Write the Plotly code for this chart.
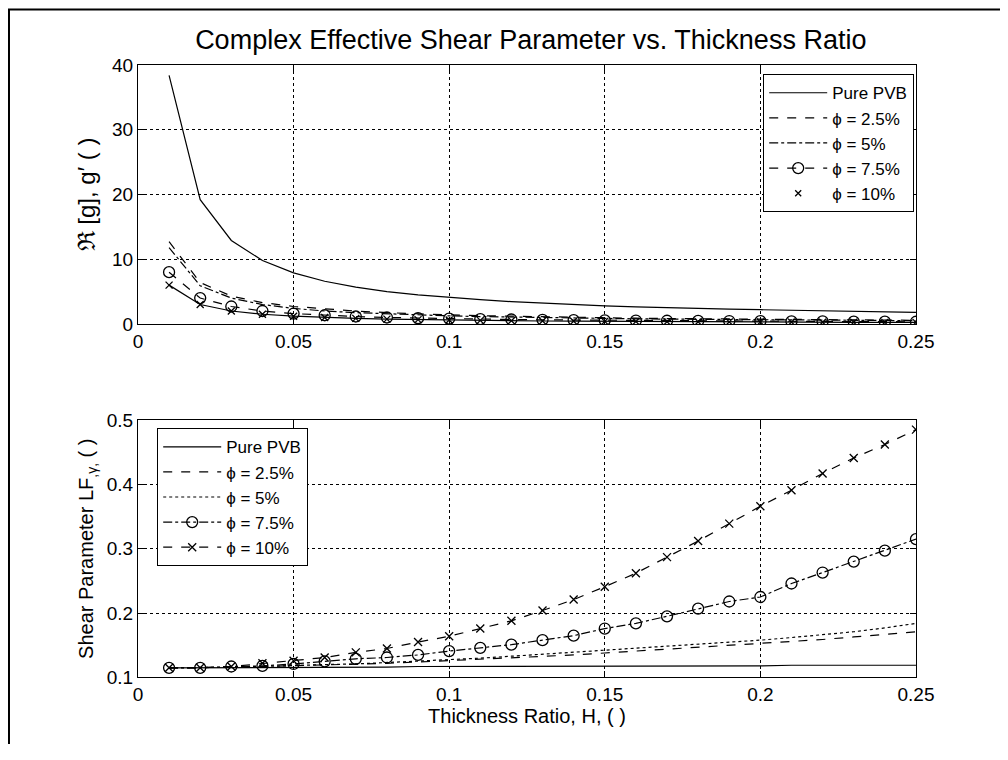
import plotly.graph_objects as go

# --- Data ---
thickness = [0.01, 0.02, 0.03, 0.04, 0.05, 0.06, 0.07, 0.08, 0.09, 0.10,
             0.11, 0.12, 0.13, 0.14, 0.15, 0.16, 0.17, 0.18, 0.19, 0.20,
             0.21, 0.22, 0.23, 0.24, 0.25]
series_names = ["Pure PVB", "\u03d5 = 2.5%", "\u03d5 = 5%", "\u03d5 = 7.5%", "\u03d5 = 10%"]

# top panel: Re[g], g'
pvb_top = [38.4, 19.2, 12.9, 9.8, 7.9, 6.6, 5.7, 5.0, 4.5, 4.1, 3.75, 3.45, 3.2,
           3.0, 2.8, 2.65, 2.5, 2.4, 2.3, 2.2, 2.1, 2.0, 1.95, 1.9, 1.8]
p25_top = [12.7, 6.4, 4.3, 3.3, 2.7, 2.3, 2.0, 1.75, 1.55, 1.4, 1.28, 1.18, 1.1,
           1.02, 0.95, 0.89, 0.84, 0.8, 0.76, 0.72, 0.68, 0.65, 0.62, 0.6, 0.57]
p5_top = [11.8, 5.9, 4.0, 3.0, 2.4, 2.0, 1.75, 1.55, 1.38, 1.25, 1.14, 1.05, 0.97,
          0.9, 0.84, 0.79, 0.75, 0.71, 0.67, 0.64, 0.61, 0.58, 0.55, 0.53, 0.51]
p75_top = [8.0, 4.0, 2.7, 2.0, 1.6, 1.35, 1.15, 1.0, 0.9, 0.82, 0.75, 0.69, 0.64,
           0.6, 0.56, 0.53, 0.5, 0.47, 0.45, 0.43, 0.41, 0.39, 0.37, 0.36, 0.34]
p10_top = [6.0, 3.0, 2.0, 1.5, 1.2, 1.0, 0.86, 0.75, 0.67, 0.6, 0.55, 0.5, 0.46,
           0.43, 0.4, 0.38, 0.35, 0.33, 0.32, 0.3, 0.29, 0.27, 0.26, 0.25, 0.24]

# bottom panel: shear parameter
pvb_bot = [0.115, 0.115, 0.115, 0.115, 0.116, 0.116, 0.116, 0.116, 0.117, 0.117,
           0.117, 0.117, 0.117, 0.117, 0.118, 0.118, 0.118, 0.118, 0.118, 0.118,
           0.119, 0.119, 0.119, 0.119, 0.119]
p25_bot = [0.115, 0.115, 0.116, 0.117, 0.118, 0.119, 0.120, 0.122, 0.124, 0.126,
           0.128, 0.130, 0.132, 0.135, 0.138, 0.141, 0.144, 0.146, 0.149, 0.152,
           0.155, 0.159, 0.163, 0.167, 0.171]
p5_bot = [0.115, 0.115, 0.116, 0.117, 0.119, 0.120, 0.121, 0.123, 0.125, 0.128,
          0.130, 0.133, 0.136, 0.139, 0.142, 0.145, 0.148, 0.151, 0.154, 0.158,
          0.162, 0.166, 0.171, 0.177, 0.184]
p75_bot = [0.115, 0.115, 0.117, 0.118, 0.121, 0.125, 0.129, 0.131, 0.135, 0.141,
           0.146, 0.151, 0.158, 0.165, 0.176, 0.184, 0.195, 0.207, 0.218, 0.225,
           0.246, 0.263, 0.280, 0.297, 0.315]
p10_bot = [0.115, 0.115, 0.117, 0.122, 0.126, 0.131, 0.139, 0.145, 0.155, 0.164,
           0.176, 0.188, 0.204, 0.221, 0.241, 0.262, 0.287, 0.312, 0.339, 0.366,
           0.391, 0.417, 0.441, 0.462, 0.485]

x_ticks = [0, 0.05, 0.1, 0.15, 0.2, 0.25]
x_labels = ["0", "0.05", "0.1", "0.15", "0.2", "0.25"]
top_ticks = [0, 10, 20, 30, 40]
bot_ticks = [0.1, 0.2, 0.3, 0.4, 0.5]
bot_labels = ["0.1", "0.2", "0.3", "0.4", "0.5"]

FONT = "Liberation Sans, Arial, sans-serif"
TICK_FONT = dict(family=FONT, size=19, color="black")
INK = "black"

# page body has an 8px margin, so the figure is sized to fit inside the window
W, H = 992, 736

fig = go.Figure()

# --- Top panel ---
top_styles = [
    dict(dash="solid", symbol=None),
    dict(dash="dash", symbol=None),
    dict(dash="dashdot", symbol=None),
    dict(dash="dash", symbol="circle-open"),
    dict(dash="solid", symbol="x-thin-open"),
]
for name, ys, st in zip(series_names, [pvb_top, p25_top, p5_top, p75_top, p10_top], top_styles):
    is_last = name == series_names[-1]
    fig.add_trace(go.Scatter(
        x=thickness, y=ys, name=name, xaxis="x", yaxis="y",
        mode="lines+markers" if st["symbol"] else "lines",
        line=dict(color=INK, width=1.2, dash=st["dash"]),
        marker=dict(symbol=st["symbol"] or "circle",
                    size=7 if st["symbol"] == "x-thin-open" else 11, color=INK,
                    line=dict(color=INK, width=1.3)),
        legend="legend", showlegend=not is_last
    ))
# legend entry for 10%: marker only, as in the original
fig.add_trace(go.Scatter(
    x=[None], y=[None], name=series_names[-1], xaxis="x", yaxis="y",
    mode="markers", marker=dict(symbol="x-thin-open", size=6, color=INK,
                                line=dict(color=INK, width=1.3)),
    legend="legend"
))

# --- Bottom panel ---
bot_styles = [
    dict(dash="solid", symbol=None),
    dict(dash="dash", symbol=None),
    dict(dash="dot", symbol=None),
    dict(dash="dashdot", symbol="circle-open"),
    dict(dash="dash", symbol="x-thin-open"),
]
for name, ys, st in zip(series_names, [pvb_bot, p25_bot, p5_bot, p75_bot, p10_bot], bot_styles):
    fig.add_trace(go.Scatter(
        x=thickness, y=ys, name=name, xaxis="x2", yaxis="y2",
        mode="lines+markers" if st["symbol"] else "lines",
        line=dict(color=INK, width=1.2, dash=st["dash"]),
        marker=dict(symbol=st["symbol"] or "circle",
                    size=8 if st["symbol"] == "x-thin-open" else 11, color=INK,
                    line=dict(color=INK, width=1.3)),
        legend="legend2"
    ))

axis_common = dict(
    showline=True, linecolor=INK, linewidth=1.2, mirror="ticks",
    ticks="inside", ticklen=6, tickcolor=INK, tickfont=TICK_FONT,
    showgrid=True, gridcolor=INK, griddash="dot", gridwidth=1,
    zeroline=False, automargin=False
)

LEGEND_BASE = dict(
    font=dict(family=FONT, size=17, color="black"),
    bgcolor="white", bordercolor=INK, borderwidth=1.2,
    tracegroupgap=0, itemwidth=58
)

fig.update_layout(
    width=W, height=H,
    margin=dict(l=0, r=0, t=0, b=0),
    paper_bgcolor="white", plot_bgcolor="white",
    font=dict(family=FONT, color="black"),
    title=dict(text="Complex Effective Shear Parameter vs. Thickness Ratio",
               x=0.527, xanchor="center", y=0.9565, yanchor="middle",
               font=dict(family=FONT, size=27, color="black"), automargin=False),
    xaxis=dict(axis_common, domain=[0.131, 0.9153], anchor="y", range=[0, 0.25],
               tickvals=x_ticks, ticktext=x_labels),
    yaxis=dict(axis_common, domain=[0.5707, 0.9226], anchor="x", range=[0, 40],
               tickvals=top_ticks,
               title=dict(text="\u211c [g], g\u2032 ( )", standoff=9,
                          font=dict(family=FONT, size=24, color="black"))),
    xaxis2=dict(axis_common, domain=[0.131, 0.9153], anchor="y2", range=[0, 0.25],
                tickvals=x_ticks, ticktext=x_labels,
                title=dict(text="Thickness Ratio, H, ( )", standoff=0,
                           font=dict(family=FONT, size=20, color="black"))),
    yaxis2=dict(axis_common, domain=[0.0904, 0.4402], anchor="x2", range=[0.1, 0.5],
                tickvals=bot_ticks, ticktext=bot_labels,
                title=dict(text="Shear Parameter LF<sub>,\u03b3,</sub> ( )", standoff=7,
                           font=dict(family=FONT, size=20, color="black"))),
    legend=dict(LEGEND_BASE, x=0.9133, xanchor="right", y=0.9103, yanchor="top"),
    legend2=dict(LEGEND_BASE, x=0.1502, xanchor="left", y=0.4293, yanchor="top"),
    shapes=[
        dict(type="line", xref="paper", yref="paper", x0=0.0, x1=1.0, y0=0.998, y1=0.998,
             line=dict(color=INK, width=2)),
        dict(type="line", xref="paper", yref="paper", x0=0.001, x1=0.001, y0=0.0, y1=0.998,
             line=dict(color=INK, width=2)),
    ],
)

fig.write_html("out.html")
